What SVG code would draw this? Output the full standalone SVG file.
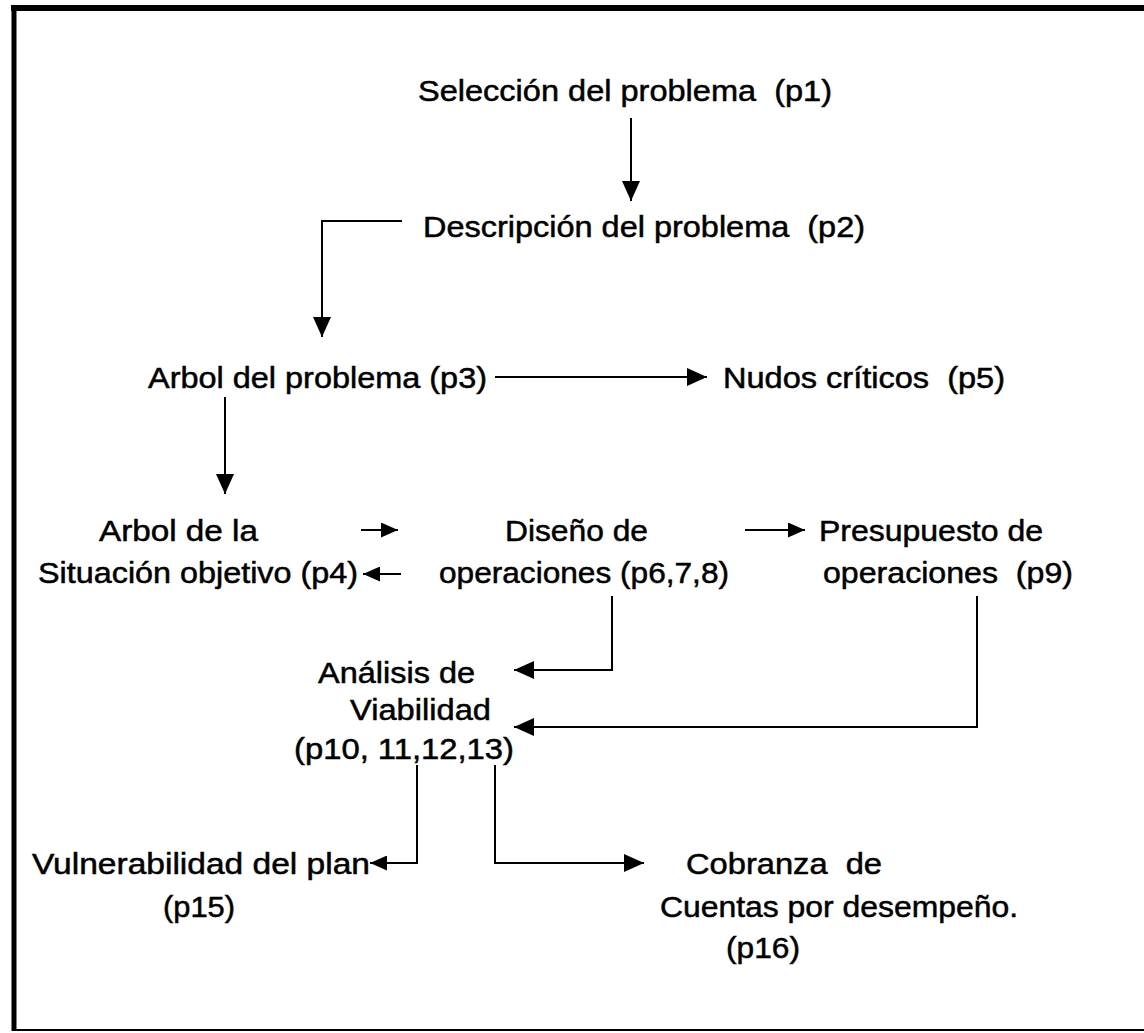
<svg xmlns="http://www.w3.org/2000/svg" width="1144" height="1033" viewBox="0 0 1144 1033">
<style>
text{font-family:"Liberation Sans",Arial,sans-serif;font-size:29px;fill:#000;stroke:#000;stroke-width:0.5;white-space:pre}
.c{fill:none;stroke:#000;stroke-width:2}
.b{fill:none;stroke:#000}
</style>
<defs>
<marker id="a" markerUnits="userSpaceOnUse" markerWidth="20" markerHeight="18" refX="20" refY="9" orient="auto"><path d="M0,0 L20,9 L0,18 z" fill="#000"/></marker>
<marker id="s" markerUnits="userSpaceOnUse" markerWidth="17" markerHeight="15" refX="17" refY="7.5" orient="auto"><path d="M0,0 L17,7.5 L0,15 z" fill="#000"/></marker>
</defs>
<rect width="1144" height="1033" fill="#fff"/>
<g id="frame">
<line class="b" x1="11" y1="8" x2="1144" y2="8" stroke-width="6"/>
<line class="b" x1="14" y1="6" x2="14" y2="1031" stroke-width="5"/>
<line class="b" x1="14" y1="1030" x2="1144" y2="1030" stroke-width="2"/>
</g>
<g id="connectors">
<path class="c" d="M631,118 V201" marker-end="url(#a)"/>
<path class="c" d="M402,221 H322 V337" marker-end="url(#a)"/>
<path class="c" d="M495,377 H707" marker-end="url(#a)"/>
<path class="c" d="M225,397 V494" marker-end="url(#a)"/>
<path class="c" d="M361,530 H398" marker-end="url(#s)"/>
<path class="c" d="M401,574 H363" marker-end="url(#s)"/>
<path class="c" d="M745,530 H805" marker-end="url(#s)"/>
<path class="c" d="M612,596 V670 H514" marker-end="url(#a)"/>
<path class="c" d="M977,596 V727 H514" marker-end="url(#a)"/>
<path class="c" d="M417,765 V863 H370" marker-end="url(#s)"/>
<path class="c" d="M495,765 V863 H644" marker-end="url(#a)"/>
</g>
<g id="p1"><text x="418" y="101" textLength="414" lengthAdjust="spacingAndGlyphs">Selección del problema  (p1)</text></g>
<g id="p2"><text x="423" y="237" textLength="442" lengthAdjust="spacingAndGlyphs">Descripción del problema  (p2)</text></g>
<g id="p3"><text x="148" y="388" textLength="339" lengthAdjust="spacingAndGlyphs">Arbol del problema (p3)</text></g>
<g id="p5"><text x="723" y="388" textLength="282" lengthAdjust="spacingAndGlyphs">Nudos críticos  (p5)</text></g>
<g id="p4">
<text x="99" y="541" textLength="159" lengthAdjust="spacingAndGlyphs">Arbol de la</text>
<text x="38" y="583" textLength="320" lengthAdjust="spacingAndGlyphs">Situación objetivo (p4)</text>
</g>
<g id="p6">
<text x="505" y="541" textLength="143" lengthAdjust="spacingAndGlyphs">Diseño de</text>
<text x="439" y="583" textLength="290" lengthAdjust="spacingAndGlyphs">operaciones (p6,7,8)</text>
</g>
<g id="p9">
<text x="819" y="541" textLength="224" lengthAdjust="spacingAndGlyphs">Presupuesto de</text>
<text x="823" y="583" textLength="250" lengthAdjust="spacingAndGlyphs">operaciones  (p9)</text>
</g>
<g id="p10">
<text x="318" y="683" textLength="157" lengthAdjust="spacingAndGlyphs">Análisis de</text>
<text x="350" y="720" textLength="141" lengthAdjust="spacingAndGlyphs">Viabilidad</text>
<text x="294" y="759" textLength="220" lengthAdjust="spacingAndGlyphs">(p10, 11,12,13)</text>
</g>
<g id="p15">
<text x="32" y="874" textLength="338" lengthAdjust="spacingAndGlyphs">Vulnerabilidad del plan</text>
<text x="163" y="917" textLength="72" lengthAdjust="spacingAndGlyphs">(p15)</text>
</g>
<g id="p16">
<text x="686" y="874" textLength="196" lengthAdjust="spacingAndGlyphs">Cobranza  de</text>
<text x="660" y="917" textLength="358" lengthAdjust="spacingAndGlyphs">Cuentas por desempeño.</text>
<text x="726" y="958" textLength="74" lengthAdjust="spacingAndGlyphs">(p16)</text>
</g>
</svg>
